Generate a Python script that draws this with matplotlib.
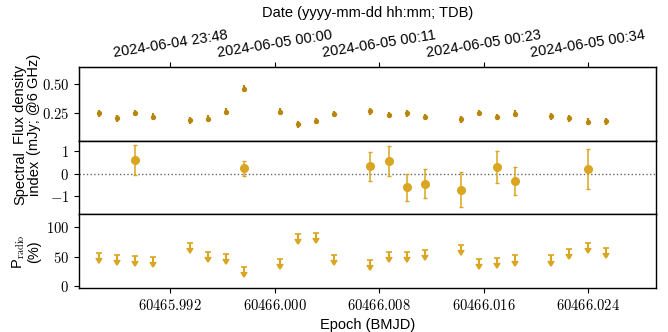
import matplotlib
matplotlib.use("Agg")
import matplotlib.pyplot as plt
import numpy as np

plt.rcParams['font.family'] = ['Liberation Sans', 'DejaVu Sans']
plt.rcParams['mathtext.fontset'] = 'cm'

# ---------------- data ----------------
epochs = [60465.98654, 60465.98794, 60465.98932, 60465.99070,
          60465.99349, 60465.99487, 60465.99624, 60465.99765,
          60466.00038, 60466.00178, 60466.00316, 60466.00456,
          60466.00732, 60466.00873, 60466.01011, 60466.01151,
          60466.01425, 60466.01563, 60466.01703, 60466.01841,
          60466.02119, 60466.02257, 60466.02398, 60466.02536]
flux = [0.245, 0.201, 0.247, 0.215, 0.183, 0.195, 0.259, 0.461,
        0.259, 0.148, 0.177, 0.239, 0.262, 0.230, 0.245, 0.212,
        0.192, 0.247, 0.212, 0.241, 0.218, 0.201, 0.171, 0.174]
flux_err = [0.03] * 24

si_epochs = [60465.98932, 60465.99765, 60466.00732, 60466.00873, 60466.01011,
             60466.01151, 60466.01425, 60466.01703, 60466.01841, 60466.02398]
si = [0.62, 0.24, 0.34, 0.55, -0.60, -0.44, -0.70, 0.31, -0.31, 0.22]
si_err = [0.66, 0.34, 0.64, 0.67, 0.60, 0.64, 0.79, 0.71, 0.63, 0.88]

p_ul = [56, 53, 51, 50, 74, 58, 55, 33, 46.5, 89, 90, 53,
        45, 58, 58, 61, 70, 46.5, 48, 52, 52, 63.5, 74, 65]

xticks = [60465.992, 60466.000, 60466.008, 60466.016, 60466.024]
xtick_labels = ["60465.992", "60466.000", "60466.008", "60466.016", "60466.024"]
date_labels = ["2024-06-04 23:48", "2024-06-05 00:00", "2024-06-05 00:11",
               "2024-06-05 00:23", "2024-06-05 00:34"]

# ---------------- figure ----------------
fig, (ax1, ax2, ax3) = plt.subplots(3, 1, figsize=(6.68, 3.32), dpi=100, sharex=True)
fig.subplots_adjust(left=0.118, right=0.982, top=0.797, bottom=0.1325, hspace=0)

c_flux = '#B8860B'
c_si = '#DAA520'

ax1.errorbar(epochs, flux, yerr=flux_err, fmt='o', ms=2.8, color=c_flux,
             ecolor=c_flux, elinewidth=1.6, capsize=0)
ax1.set_ylim(0, 0.65)
ax1.set_yticks([0.25, 0.50])
ax1.set_yticklabels([r'$0.25$', r'$0.50$'])
ax1.set_ylabel('Flux density\n(mJy; @6 GHz)', fontsize=10.5, linespacing=0.95)

ax2.errorbar(si_epochs, si, yerr=si_err, fmt='o', ms=5.5, color=c_si,
             ecolor=c_si, elinewidth=1.1, capsize=1.6, capthick=1.0)
ax2.axhline(0, color='0.4', ls=':', lw=1.0, zorder=0)
ax2.set_ylim(-1.8, 1.45)
ax2.set_yticks([-1, 0, 1])
ax2.set_yticklabels([r'$-1$', r'$0$', r'$1$'])
ax2.set_ylabel('Spectral\nindex', fontsize=10.5, linespacing=0.95)

ax3.errorbar(epochs, p_ul, yerr=9, uplims=True, fmt='none', color=c_si,
             ecolor=c_si, mfc=c_si, mec=c_si,
             elinewidth=1.5, capsize=2.3, capthick=1.2)
ax3.set_ylim(-3.4, 121.8)
ax3.set_yticks([0, 50, 100])
ax3.set_yticklabels([r'$0$', r'$50$', r'$100$'])
ax3.set_ylabel('P$_{\\rm radio}$\n(%)', fontsize=10.5, linespacing=0.95)

ax3.set_xlim(60465.985, 60466.02921)
ax3.set_xticks(xticks)
ax3.set_xticklabels([r'$%s$' % s for s in xtick_labels])
ax3.set_xlabel('Epoch (BMJD)', fontsize=10.5)

for ax in (ax1, ax2, ax3):
    ax.tick_params(axis='both', labelsize=10.5)
    for sp in ax.spines.values():
        sp.set_linewidth(1.0)
for ax in (ax1, ax2):
    ax.tick_params(axis='x', length=1.5)

for ax in (ax1, ax2, ax3):
    ax.yaxis.set_label_coords(-0.066, 0.5)

axt = ax1.twiny()
axt.set_xlim(ax3.get_xlim())
axt.set_xticks(xticks)
axt.set_xticklabels(date_labels, rotation=9, fontsize=10.5)
axt.tick_params(axis='x', pad=2)
axt.set_xlabel('Date (yyyy-mm-dd hh:mm; TDB)', fontsize=10.5, labelpad=8)

fig.savefig('out.png', dpi=100)
